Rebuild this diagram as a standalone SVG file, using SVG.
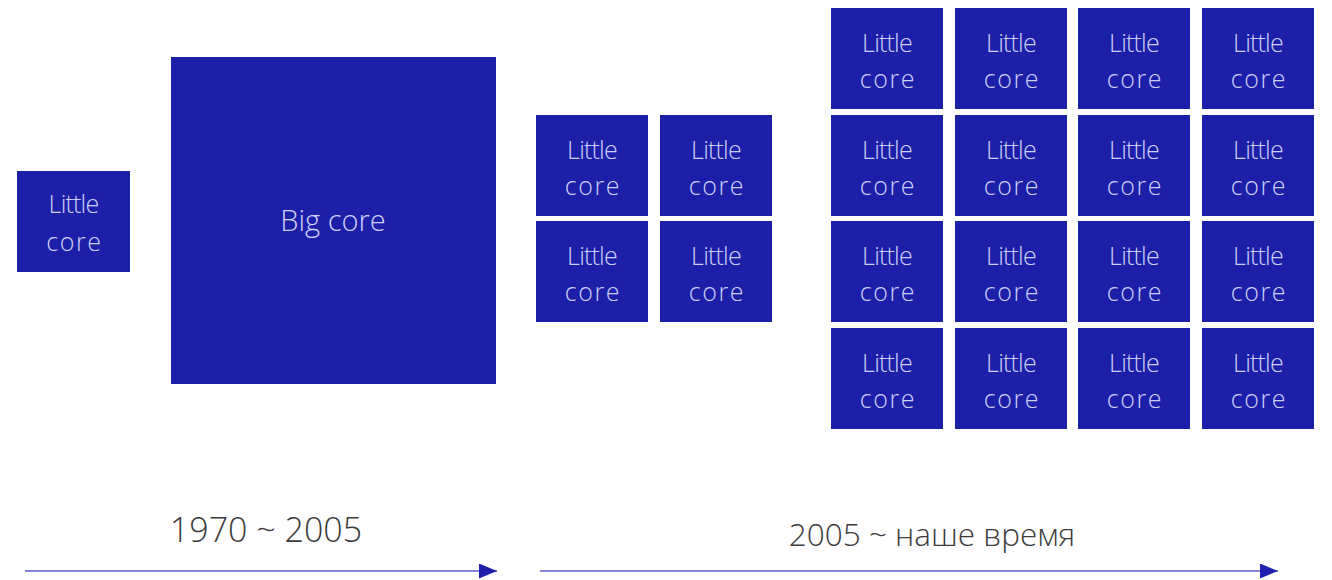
<svg xmlns="http://www.w3.org/2000/svg" width="1332" height="580" viewBox="0 0 1332 580">
<defs>
<marker id="ah" markerWidth="18" markerHeight="15" refX="18" refY="7.5" orient="auto" markerUnits="userSpaceOnUse">
<path d="M0,0 L18,7.5 L0,15 Z" fill="#1e20ab"/>
</marker>
<style>
.core{fill:#1c1fa8}
.ct{font-family:"Open Sans","Liberation Sans",sans-serif;font-weight:300;font-size:25px;fill:#cdd0f6;text-anchor:middle}
.l1{letter-spacing:-0.8px}
.l2{letter-spacing:1.6px}
.bt{font-family:"Open Sans","Liberation Sans",sans-serif;font-weight:300;font-size:29px;fill:#cdd0f6;text-anchor:middle}
.tl{font-family:"Open Sans","Liberation Sans",sans-serif;font-weight:300;fill:#3c3c3c;text-anchor:middle}
.ax{stroke:#8385d2;stroke-width:2;fill:none}
</style>
</defs>
<rect width="1332" height="580" fill="#ffffff"/>

<g id="little-core-single"><rect class="core" x="17" y="171" width="113" height="101"/><text class="ct l1" x="73.5" y="213">Little</text><text class="ct l2" x="74.5" y="251">core</text></g>
<g id="big-core"><rect class="core" x="171" y="57" width="325" height="327"/><text class="bt" x="333" y="231">Big core</text></g>

<g id="dual-1-1"><rect class="core" x="536" y="115" width="112" height="101"/><text class="ct l1" x="592" y="159">Little</text><text class="ct l2" x="593" y="195">core</text></g>
<g id="dual-1-2"><rect class="core" x="660" y="115" width="112" height="101"/><text class="ct l1" x="716" y="159">Little</text><text class="ct l2" x="717" y="195">core</text></g>
<g id="dual-2-1"><rect class="core" x="536" y="221" width="112" height="101"/><text class="ct l1" x="592" y="265">Little</text><text class="ct l2" x="593" y="301">core</text></g>
<g id="dual-2-2"><rect class="core" x="660" y="221" width="112" height="101"/><text class="ct l1" x="716" y="265">Little</text><text class="ct l2" x="717" y="301">core</text></g>

<g id="multi-1-1"><rect class="core" x="831" y="8" width="112" height="101"/><text class="ct l1" x="887" y="52">Little</text><text class="ct l2" x="888" y="88">core</text></g>
<g id="multi-1-2"><rect class="core" x="955" y="8" width="112" height="101"/><text class="ct l1" x="1011" y="52">Little</text><text class="ct l2" x="1012" y="88">core</text></g>
<g id="multi-1-3"><rect class="core" x="1078" y="8" width="112" height="101"/><text class="ct l1" x="1134" y="52">Little</text><text class="ct l2" x="1135" y="88">core</text></g>
<g id="multi-1-4"><rect class="core" x="1202" y="8" width="112" height="101"/><text class="ct l1" x="1258" y="52">Little</text><text class="ct l2" x="1259" y="88">core</text></g>

<g id="multi-2-1"><rect class="core" x="831" y="115" width="112" height="101"/><text class="ct l1" x="887" y="159">Little</text><text class="ct l2" x="888" y="195">core</text></g>
<g id="multi-2-2"><rect class="core" x="955" y="115" width="112" height="101"/><text class="ct l1" x="1011" y="159">Little</text><text class="ct l2" x="1012" y="195">core</text></g>
<g id="multi-2-3"><rect class="core" x="1078" y="115" width="112" height="101"/><text class="ct l1" x="1134" y="159">Little</text><text class="ct l2" x="1135" y="195">core</text></g>
<g id="multi-2-4"><rect class="core" x="1202" y="115" width="112" height="101"/><text class="ct l1" x="1258" y="159">Little</text><text class="ct l2" x="1259" y="195">core</text></g>

<g id="multi-3-1"><rect class="core" x="831" y="221" width="112" height="101"/><text class="ct l1" x="887" y="265">Little</text><text class="ct l2" x="888" y="301">core</text></g>
<g id="multi-3-2"><rect class="core" x="955" y="221" width="112" height="101"/><text class="ct l1" x="1011" y="265">Little</text><text class="ct l2" x="1012" y="301">core</text></g>
<g id="multi-3-3"><rect class="core" x="1078" y="221" width="112" height="101"/><text class="ct l1" x="1134" y="265">Little</text><text class="ct l2" x="1135" y="301">core</text></g>
<g id="multi-3-4"><rect class="core" x="1202" y="221" width="112" height="101"/><text class="ct l1" x="1258" y="265">Little</text><text class="ct l2" x="1259" y="301">core</text></g>

<g id="multi-4-1"><rect class="core" x="831" y="328" width="112" height="101"/><text class="ct l1" x="887" y="372">Little</text><text class="ct l2" x="888" y="408">core</text></g>
<g id="multi-4-2"><rect class="core" x="955" y="328" width="112" height="101"/><text class="ct l1" x="1011" y="372">Little</text><text class="ct l2" x="1012" y="408">core</text></g>
<g id="multi-4-3"><rect class="core" x="1078" y="328" width="112" height="101"/><text class="ct l1" x="1134" y="372">Little</text><text class="ct l2" x="1135" y="408">core</text></g>
<g id="multi-4-4"><rect class="core" x="1202" y="328" width="112" height="101"/><text class="ct l1" x="1258" y="372">Little</text><text class="ct l2" x="1259" y="408">core</text></g>

<g id="label-1970"><text class="tl" x="266" y="542" font-size="34">1970 ~ 2005</text></g>
<g id="label-2005"><text class="tl" x="932" y="546" font-size="31.5">2005 ~ наше время</text></g>

<g id="connectors">
<line class="ax" x1="25" y1="571" x2="497" y2="571" marker-end="url(#ah)"/>
<line class="ax" x1="540" y1="571" x2="1278" y2="571" marker-end="url(#ah)"/>
</g>
</svg>
